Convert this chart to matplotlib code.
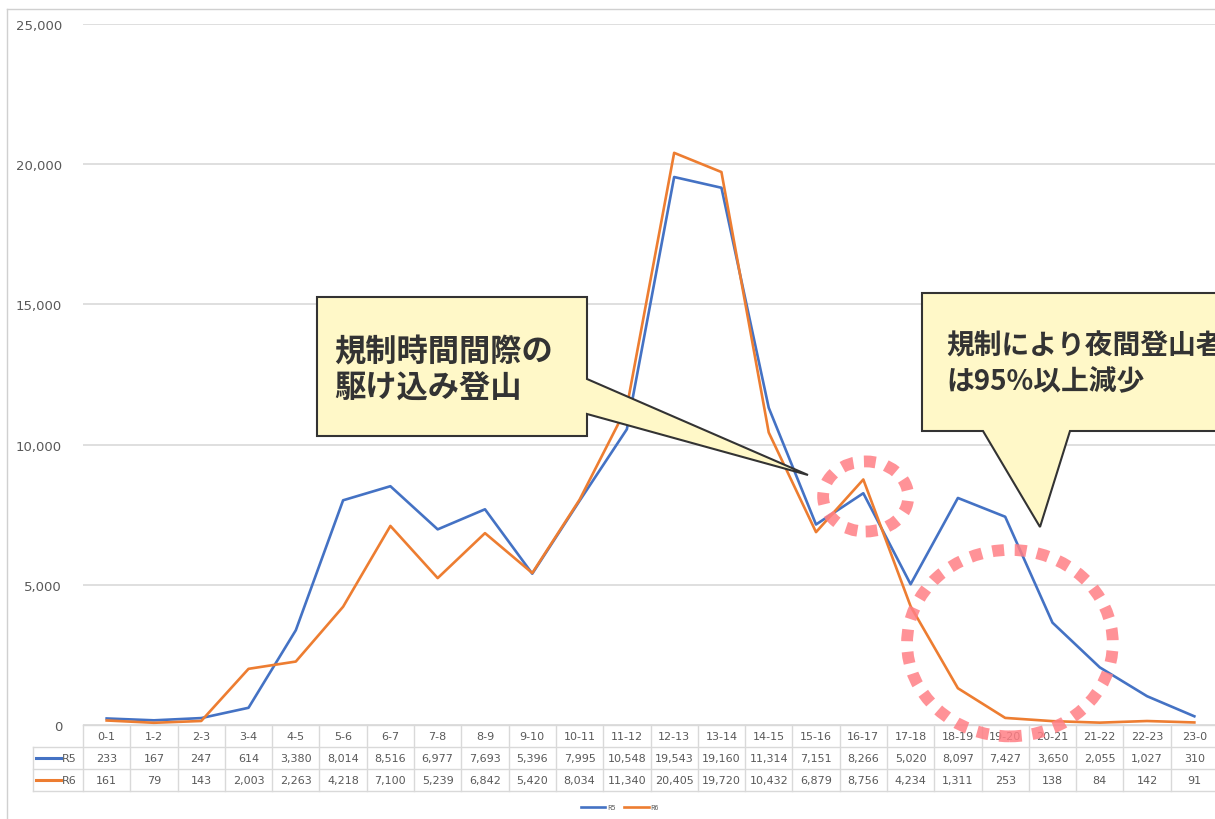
import matplotlib
matplotlib.use('Agg')
from matplotlib import pyplot as plt
from matplotlib import transforms
from matplotlib.patches import Polygon, Ellipse
from matplotlib.lines import Line2D
import numpy as np

plt.rcParams['font.family'] = ['Noto Sans CJK JP', 'DejaVu Sans']

# data
hours = ['0-1', '1-2', '2-3', '3-4', '4-5', '5-6', '6-7', '7-8', '8-9', '9-10', '10-11', '11-12',
         '12-13', '13-14', '14-15', '15-16', '16-17', '17-18', '18-19', '19-20', '20-21', '21-22',
         '22-23', '23-0']
r5 = [233, 167, 247, 614, 3380, 8014, 8516, 6977, 7693, 5396, 7995, 10548,
      19543, 19160, 11314, 7151, 8266, 5020, 8097, 7427, 3650, 2055, 1027, 310]
r6 = [161, 79, 143, 2003, 2263, 4218, 7100, 5239, 6842, 5420, 8034, 11340,
      20405, 19720, 10432, 6879, 8756, 4234, 1311, 253, 138, 84, 142, 91]
series_names = ['R5', 'R6']
yticks = [0, 5000, 10000, 15000, 20000, 25000]

W, H = 1215, 820
BLUE = '#4472C4'
ORANGE = '#ED7D31'
GRID = '#D9D9D9'
TXT = '#595959'

def fx(px):
    return px / W

def fy(py):
    return 1 - py / H

fig = plt.figure(figsize=(W / 100, H / 100), dpi=100)
ax = fig.add_axes([fx(83), fy(726), fx(1218) - fx(83), fy(25) - fy(726)])

x = np.arange(len(hours))
l5, = ax.plot(x, r5, color=BLUE, lw=1.9, zorder=3)
l6, = ax.plot(x, r6, color=ORANGE, lw=1.9, zorder=3)

ax.set_xlim(-0.5, len(hours) - 0.5)
ax.set_ylim(0, 25000)
ax.set_yticks(yticks)
ax.set_yticklabels(['{:,}'.format(v) for v in yticks], fontsize=9.5, color=TXT,
                   family=['DejaVu Sans'])
ax.tick_params(axis='y', length=0, pad=15)
ax.set_xticks([])
for s in ax.spines.values():
    s.set_visible(False)
ax.yaxis.grid(True, color=GRID, lw=1.2)
ax.set_axisbelow(True)

# outer frame of the chart
fig.add_artist(Line2D([fx(7), 1], [fy(10), fy(10)], color='#D0D0D0', lw=1))
fig.add_artist(Line2D([fx(7), fx(7)], [fy(10), 0], color='#D0D0D0', lw=1))

# data table under the chart
bt = transforms.blended_transform_factory(ax.transData, fig.transFigure)
ax.plot([-0.5, len(hours) - 0.5], [fy(726), fy(726)], transform=bt, color=GRID,
        lw=1, clip_on=False)
for yy in [748, 770, 792]:
    fig.add_artist(Line2D([fx(33), 1], [fy(yy), fy(yy)], color=GRID, lw=1))
for i in range(len(hours) + 1):
    ax.plot([i - 0.5, i - 0.5], [fy(726), fy(792)], transform=bt, color=GRID, lw=1,
            clip_on=False)
fig.add_artist(Line2D([fx(33), fx(33)], [fy(748), fy(792)], color=GRID, lw=1))

for i, h in enumerate(hours):
    ax.text(i, fy(737), h, transform=bt, ha='center', va='center', fontsize=8,
            color=TXT, family=['DejaVu Sans'])
    ax.text(i, fy(759), '{:,}'.format(r5[i]), transform=bt, ha='center', va='center',
            fontsize=8, color=TXT, family=['DejaVu Sans'])
    ax.text(i, fy(781), '{:,}'.format(r6[i]), transform=bt, ha='center', va='center',
            fontsize=8, color=TXT, family=['DejaVu Sans'])

for yy, col, name in [(759, BLUE, series_names[0]), (781, ORANGE, series_names[1])]:
    fig.add_artist(Line2D([fx(36), fx(61)], [fy(yy), fy(yy)], color=col, lw=2.2))
    fig.text(fx(62), fy(yy), name, ha='left', va='center', fontsize=8, color=TXT,
             family=['DejaVu Sans'])

# small legend at the bottom
fig.legend([l5, l6], series_names, loc='center', bbox_to_anchor=(fx(620), fy(808)),
           ncol=2, frameon=False, fontsize=5, handlelength=3.5, columnspacing=1.2,
           handletextpad=0.3, labelcolor=TXT)

# dotted red ellipses
for cx, cy, ew, eh in [(16.05, 8150, 1.8, 2500), (19.1, 2920, 4.35, 6650)]:
    ax.add_patch(Ellipse((cx, cy), ew, eh, fill=False, edgecolor='#FF7F85', lw=8.5,
                         linestyle=(0, (1, 0.9)), alpha=0.85, zorder=4, clip_on=False))

# callouts
FILL = '#FFF8C8'
EDGE = '#333333'
c1 = [(317, 298), (587, 298), (587, 380), (808, 476), (587, 415), (587, 437), (317, 437)]
c2 = [(922, 294), (1230, 294), (1230, 432), (1070, 432), (1040, 528), (983, 432), (922, 432)]
for pts in (c1, c2):
    fig.add_artist(Polygon([(fx(a), fy(b)) for a, b in pts], closed=True,
                           facecolor=FILL, edgecolor=EDGE, lw=1.5, zorder=5))

fig.text(fx(334), fy(370), '規制時間間際の\n駆け込み登山', ha='left', va='center',
         fontsize=22.5, fontweight='bold', color='#333333', linespacing=1.15, zorder=6)
fig.text(fx(946), fy(364), '規制により夜間登山者\nは95%以上減少', ha='left', va='center',
         fontsize=20, fontweight='bold', color='#333333', linespacing=1.35, zorder=6)

fig.savefig('out.png', dpi=100)
